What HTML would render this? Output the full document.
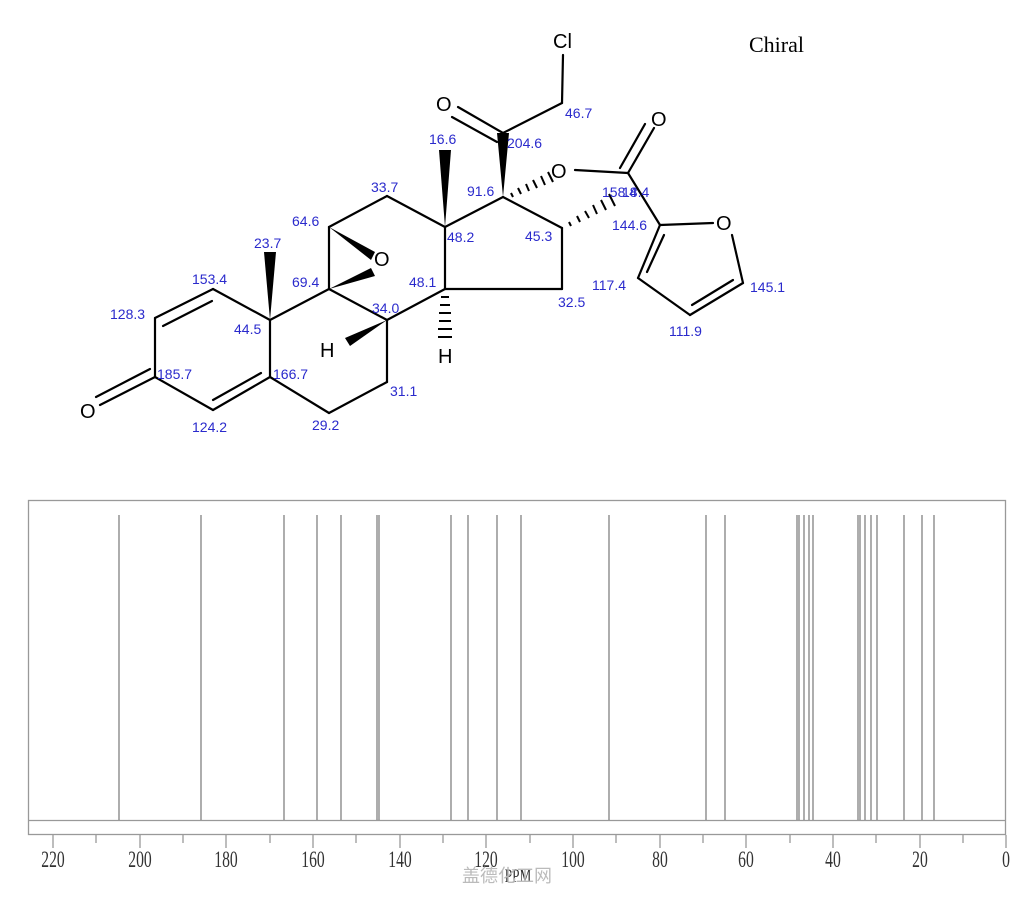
<!DOCTYPE html>
<html><head><meta charset="utf-8"><style>
body{margin:0;background:#fff;}
svg{display:block}
.b{stroke:#000;stroke-width:2.2;fill:none;stroke-linecap:round}
.l{font-family:"Liberation Sans",sans-serif;font-size:14px;fill:#2a2acc}
.a{font-family:"Liberation Sans",sans-serif;font-size:20px;fill:#000}
.p{stroke:#777;stroke-width:1.2}
.t{font-family:"Liberation Serif",serif;font-size:23px;fill:#333;text-anchor:middle}
</style></head><body>
<svg width="1024" height="900" viewBox="0 0 1024 900">
<g class="b">
<line x1="155" y1="318" x2="213" y2="289"/><line x1="163" y1="326" x2="212" y2="301"/>
<line x1="213" y1="289" x2="270" y2="320"/>
<line x1="270" y1="320" x2="270" y2="377"/>
<line x1="270" y1="377" x2="213" y2="410"/><line x1="261" y1="373" x2="213" y2="400"/>
<line x1="213" y1="410" x2="155" y2="377"/>
<line x1="155" y1="377" x2="155" y2="318"/>
<line x1="155" y1="377" x2="100" y2="405"/><line x1="150" y1="369" x2="96" y2="397"/>
<line x1="270" y1="320" x2="329" y2="289"/>
<line x1="329" y1="289" x2="387" y2="320"/>
<line x1="387" y1="320" x2="387" y2="382"/>
<line x1="387" y1="382" x2="329" y2="413"/>
<line x1="329" y1="413" x2="270" y2="377"/>
<line x1="329" y1="289" x2="329" y2="227"/>
<line x1="329" y1="227" x2="387" y2="196"/>
<line x1="387" y1="196" x2="445" y2="227"/>
<line x1="445" y1="227" x2="445" y2="289"/>
<line x1="445" y1="289" x2="387" y2="320"/>
<line x1="445" y1="227" x2="503" y2="197"/>
<line x1="503" y1="197" x2="562" y2="228"/>
<line x1="562" y1="228" x2="562" y2="289"/>
<line x1="562" y1="289" x2="445" y2="289"/>
<line x1="503" y1="133" x2="562" y2="103"/>
<line x1="562" y1="103" x2="563" y2="55"/>
<line x1="503" y1="133" x2="458" y2="107"/><line x1="497" y1="142" x2="452" y2="117"/>
<line x1="575" y1="170" x2="628" y2="173"/>
<line x1="628" y1="173" x2="654" y2="128"/><line x1="620" y1="168" x2="645" y2="124"/>
<line x1="628" y1="173" x2="660" y2="225"/>
<line x1="660" y1="225" x2="713" y2="223"/>
<line x1="732" y1="235" x2="743" y2="283"/>
<line x1="743" y1="283" x2="690" y2="315"/><line x1="733" y1="280" x2="692" y2="305"/>
<line x1="690" y1="315" x2="638" y2="278"/>
<line x1="638" y1="278" x2="660" y2="225"/><line x1="647" y1="272" x2="664" y2="235"/>
</g>
<polygon points="270,320 264,252 276,252" fill="#000"/>
<polygon points="445,227 439,150 451,150" fill="#000"/>
<polygon points="503,197 497,133 509,133" fill="#000"/>
<polygon points="329,227 375,252 371,260" fill="#000"/>
<polygon points="329,289 371,268 375,276" fill="#000"/>
<polygon points="387,320 345,338 350,346" fill="#000"/>
<g stroke="#000" stroke-width="2">
<line x1="441" y1="297" x2="449" y2="297"/><line x1="440" y1="305" x2="450" y2="305"/><line x1="439" y1="313" x2="451" y2="313"/><line x1="439" y1="321" x2="451" y2="321"/><line x1="438" y1="329" x2="452" y2="329"/><line x1="438" y1="337" x2="452" y2="337"/>
<line x1="511" y1="193" x2="513" y2="197"/><line x1="518" y1="188" x2="521" y2="194"/><line x1="526" y1="184" x2="529" y2="191"/><line x1="533" y1="180" x2="537" y2="188"/><line x1="541" y1="176" x2="545" y2="185"/><line x1="548" y1="172" x2="553" y2="182"/>
<line x1="569" y1="222" x2="571" y2="226"/><line x1="577" y1="216" x2="580" y2="222"/><line x1="585" y1="211" x2="589" y2="218"/><line x1="593" y1="205" x2="597" y2="214"/><line x1="601" y1="200" x2="606" y2="210"/><line x1="609" y1="194" x2="615" y2="206"/>
</g>
<text class="a" x="80" y="418">O</text>
<text class="a" x="374" y="266">O</text>
<text class="a" x="320" y="357">H</text>
<text class="a" x="438" y="363">H</text>
<text class="a" x="436" y="111">O</text>
<text class="a" x="553" y="48">Cl</text>
<text class="a" x="551" y="178">O</text>
<text class="a" x="651" y="126">O</text>
<text class="a" x="716" y="230">O</text>
<text x="749" y="52" style="font-family:'Liberation Serif',serif;font-size:22px">Chiral</text>
<g class="l">
<text x="110" y="319">128.3</text><text x="192" y="284">153.4</text><text x="254" y="248">23.7</text>
<text x="234" y="334">44.5</text><text x="157" y="379">185.7</text><text x="273" y="379">166.7</text>
<text x="192" y="432">124.2</text><text x="312" y="430">29.2</text><text x="390" y="396">31.1</text>
<text x="292" y="287">69.4</text><text x="292" y="226">64.6</text><text x="371" y="192">33.7</text>
<text x="372" y="313">34.0</text><text x="409" y="287">48.1</text><text x="447" y="242">48.2</text>
<text x="429" y="144">16.6</text><text x="467" y="196">91.6</text><text x="507" y="148">204.6</text>
<text x="565" y="118">46.7</text><text x="525" y="241">45.3</text><text x="558" y="307">32.5</text>
<text x="602" y="197">158.4</text><text x="622" y="197">18.4</text>
<text x="612" y="230">144.6</text><text x="592" y="290">117.4</text><text x="750" y="292">145.1</text>
<text x="669" y="336">111.9</text>
</g>
<rect x="28.5" y="500.5" width="977" height="334" fill="none" stroke="#999" stroke-width="1.3"/>
<line x1="28" y1="820.5" x2="1006" y2="820.5" stroke="#999" stroke-width="1.3"/>
<g class="p">
<line x1="119" y1="515" x2="119" y2="820"/><line x1="201" y1="515" x2="201" y2="820"/>
<line x1="284" y1="515" x2="284" y2="820"/><line x1="317" y1="515" x2="317" y2="820"/>
<line x1="341" y1="515" x2="341" y2="820"/><line x1="377" y1="515" x2="377" y2="820"/>
<line x1="379" y1="515" x2="379" y2="820"/><line x1="451" y1="515" x2="451" y2="820"/>
<line x1="468" y1="515" x2="468" y2="820"/><line x1="497" y1="515" x2="497" y2="820"/>
<line x1="521" y1="515" x2="521" y2="820"/><line x1="609" y1="515" x2="609" y2="820"/>
<line x1="706" y1="515" x2="706" y2="820"/><line x1="725" y1="515" x2="725" y2="820"/>
<line x1="797" y1="515" x2="797" y2="820"/><line x1="799" y1="515" x2="799" y2="820"/>
<line x1="804" y1="515" x2="804" y2="820"/><line x1="809" y1="515" x2="809" y2="820"/>
<line x1="813" y1="515" x2="813" y2="820"/><line x1="858" y1="515" x2="858" y2="820"/>
<line x1="860" y1="515" x2="860" y2="820"/><line x1="865" y1="515" x2="865" y2="820"/>
<line x1="871" y1="515" x2="871" y2="820"/><line x1="877" y1="515" x2="877" y2="820"/>
<line x1="904" y1="515" x2="904" y2="820"/><line x1="922" y1="515" x2="922" y2="820"/>
<line x1="934" y1="515" x2="934" y2="820"/>
</g>
<g stroke="#999" stroke-width="1.3">
<line x1="53" y1="835" x2="53" y2="848"/><line x1="96" y1="835" x2="96" y2="843"/>
<line x1="140" y1="835" x2="140" y2="848"/><line x1="183" y1="835" x2="183" y2="843"/>
<line x1="226" y1="835" x2="226" y2="848"/><line x1="270" y1="835" x2="270" y2="843"/>
<line x1="313" y1="835" x2="313" y2="848"/><line x1="356" y1="835" x2="356" y2="843"/>
<line x1="400" y1="835" x2="400" y2="848"/><line x1="443" y1="835" x2="443" y2="843"/>
<line x1="486" y1="835" x2="486" y2="848"/><line x1="530" y1="835" x2="530" y2="843"/>
<line x1="573" y1="835" x2="573" y2="848"/><line x1="616" y1="835" x2="616" y2="843"/>
<line x1="660" y1="835" x2="660" y2="848"/><line x1="703" y1="835" x2="703" y2="843"/>
<line x1="746" y1="835" x2="746" y2="848"/><line x1="790" y1="835" x2="790" y2="843"/>
<line x1="833" y1="835" x2="833" y2="848"/><line x1="876" y1="835" x2="876" y2="843"/>
<line x1="920" y1="835" x2="920" y2="848"/><line x1="963" y1="835" x2="963" y2="843"/>
<line x1="1006" y1="835" x2="1006" y2="848"/>
</g>
<g class="t">
<text transform="translate(53,867) scale(0.68,1)">220</text>
<text transform="translate(140,867) scale(0.68,1)">200</text>
<text transform="translate(226,867) scale(0.68,1)">180</text>
<text transform="translate(313,867) scale(0.68,1)">160</text>
<text transform="translate(400,867) scale(0.68,1)">140</text>
<text transform="translate(486,867) scale(0.68,1)">120</text>
<text transform="translate(573,867) scale(0.68,1)">100</text>
<text transform="translate(660,867) scale(0.68,1)">80</text>
<text transform="translate(746,867) scale(0.68,1)">60</text>
<text transform="translate(833,867) scale(0.68,1)">40</text>
<text transform="translate(920,867) scale(0.68,1)">20</text>
<text transform="translate(1006,867) scale(0.68,1)">0</text>
<text transform="translate(518,882) scale(0.7,1)" style="font-size:19px">PPM</text>
</g>
<text x="462" y="882" style="font-family:'Liberation Sans','Noto Sans CJK SC',sans-serif;font-size:18px;fill:#bbb">盖德化工网</text>
</svg>
</body></html>
